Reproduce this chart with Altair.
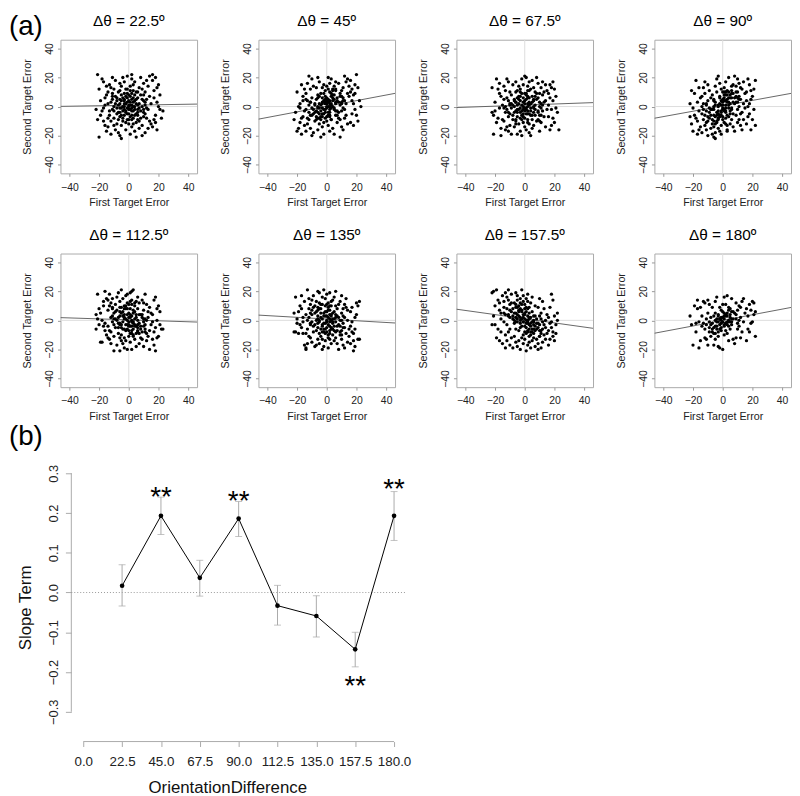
import altair as alt
import pandas as pd

FONT = "Liberation Sans"

# ---------------- panel (a) data: (first target error, second target error) ----------------
PTS_22_5 = [(-21,22),(-20,-21),(-21,-9),(-19,4),(-20,12),(-18,-3),(-17,17),(-16,-13),(-19,-6),(-15,8),(-16,1),(-18,19),(-15,-17),(-17,-10),(-16,6),(-22,-2),(-15,14),(-17,-1),
(-14,10),(-13,-6),(-12,3),(-14,-14),(-11,20),(-10,-8),(-13,15),(-12,-19),(-9,7),(-11,-2),(-10,12),(-14,2),(-8,-12),(-12,-10),(-9,18),(-13,-3),(-10,0),(-11,9),(-8,4),(-9,-16),(-12,13),(-14,-8),(-10,-13),(-11,5),(-8,-5),
(-7,1),(-6,-7),(-5,14),(-4,-3),(-7,-18),(-3,9),(-2,-11),(-6,5),(-5,-1),(-1,3),(-4,20),(-3,-6),(-7,10),(-2,2),(-5,-13),(-1,-9),(-6,-4),(-3,17),(-4,6),(-2,-16),(-1,12),(-5,8),(-6,-20),(-3,0),(-2,-3),(-7,-9),(-1,-1),(-4,-10),(-3,4),(0,-5),(-2,7),(-5,-22),(-6,16),(-1,21),(0,8),
(1,-2),(2,5),(3,-8),(1,14),(4,0),(2,-14),(5,10),(3,3),(6,-4),(1,-19),(4,17),(7,-1),(2,-6),(5,-11),(3,11),(6,6),(1,1),(4,-17),(7,13),(2,19),(5,2),(0,-12),(3,-3),(6,-9),(8,8),(1,7),(4,-6),(7,-15),(2,22),(5,-21),(3,15),(8,-3),(6,1),(0,4),(2,-1),
(9,12),(10,-7),(11,3),(9,-13),(12,18),(13,-2),(10,8),(14,-10),(11,-18),(12,5),(9,0),(13,14),(10,-4),(14,21),(11,10),(12,-8),(15,2),(13,-15),(9,-20),(14,7),(10,16),(12,-1),(15,-12),(11,-5),(8,20),
(16,22),(18,-6),(17,11),(19,3),(16,-14),(20,15),(18,-11),(21,-2),(17,6),(19,-16),(22,-8),(16,18),(20,0),(18,20),(21,8),(17,-9),(23,-3),(19,13)]
CORE_22_5 = [(-10,-3),(-8,6),(-6,-1),(-5,4),(-4,-8),(-3,2),(-2,-4),(-1,6),(0,-2),(1,3),(2,-9),(3,6),(4,-2),(5,5),(6,-6),(7,2),(8,-8),(9,5),(10,-2),(11,1),
(-9,2),(-7,-4),(-6,11),(-4,0),(-3,-2),(-1,-5),(0,1),(1,-7),(2,9),(3,0),(4,4),(5,-5),(6,10),(7,-10),(-2,12),(0,-9),(1,11),(-5,-6),(3,-12),(-8,-1),
(-11,7),(10,4),(-3,5),(2,-3),(4,8),(-6,2),(6,-2),(0,0),(-1,9),(2,1)]

PTS_45 = [(-21,-4),(-20,10),(-19,-15),(-18,2),(-17,-19),(-16,7),(-22,-9),(-15,-3),(-18,-11),(-17,15),(-16,-7),(-19,0),(-15,-13),(-20,-17),(-16,4),(-18,-1),(-15,12),(-17,-8),
(-14,-2),(-13,16),(-12,-9),(-11,3),(-10,-20),(-14,9),(-9,-5),(-12,21),(-13,-12),(-11,-15),(-10,6),(-8,-10),(-12,1),(-9,14),(-14,-17),(-11,-6),(-13,4),(-10,-1),(-9,-18),(-8,2),(-12,-4),(-11,12),(-13,-8),(-10,19),(-14,5),
(-7,-3),(-6,8),(-5,-12),(-4,1),(-7,13),(-3,-7),(-2,4),(-6,-16),(-5,-5),(-1,11),(-4,-21),(-3,6),(-7,-9),(-2,-2),(-5,17),(-1,-8),(-6,0),(-3,-14),(-4,9),(-2,15),(-1,2),(-5,-1),(-6,20),(-3,3),(-2,-11),(-7,5),(-1,-4),(-4,-7),(-3,13),(0,-1),(-2,-19),(-5,7),(-6,-8),(-1,5),(0,-10),
(1,3),(2,-4),(3,9),(1,-13),(4,4),(2,16),(5,-2),(3,-9),(6,11),(1,0),(4,-15),(7,6),(2,-7),(5,14),(3,1),(6,-6),(1,20),(4,8),(7,-11),(2,2),(5,-19),(0,6),(3,-1),(6,17),(8,3),(1,-6),(4,12),(7,-3),(2,-17),(5,5),(3,19),(8,-8),(6,2),(0,14),(2,-2),
(9,7),(10,-3),(11,13),(9,-9),(12,4),(13,17),(10,-14),(14,9),(11,-1),(12,21),(9,1),(13,-6),(10,11),(14,-12),(11,6),(12,-8),(15,14),(13,2),(9,-21),(14,19),(10,3),(12,-2),(15,7),(11,-16),(8,16),
(16,10),(18,2),(17,-5),(19,15),(16,-11),(20,22),(18,8),(21,-10),(17,12),(19,-2),(22,4),(16,18),(20,-6),(18,-13),(21,13),(17,4),(23,0),(19,9)]
CORE_45 = [(-10,-6),(-8,1),(-6,-4),(-5,2),(-4,-9),(-3,-1),(-2,-5),(-1,3),(0,0),(1,5),(2,-6),(3,7),(4,0),(5,8),(6,-3),(7,4),(8,-4),(9,9),(10,2),(11,4),
(-9,-2),(-7,-7),(-6,6),(-4,-3),(-3,-5),(-1,-2),(0,4),(1,-4),(2,10),(3,2),(4,6),(5,-1),(6,12),(7,-6),(-2,9),(0,-7),(1,12),(-5,-8),(3,-9),(-8,-4),
(-11,3),(10,7),(-3,2),(2,0),(4,11),(-6,-1),(6,3),(0,2),(-1,7),(2,4)]

PTS_67_5 = [(-21,-19),(-20,3),(-19,19),(-22,13),(-18,-8),(-17,9),(-16,-15),(-21,-6),(-15,1),(-19,-11),(-17,16),(-20,-3),(-16,7),(-18,12),(-15,-9),(-22,-4),(-17,-1),(-16,-20),
(-14,14),(-13,-4),(-12,6),(-11,-17),(-10,10),(-14,-10),(-9,2),(-12,19),(-13,0),(-11,-7),(-10,-13),(-8,15),(-12,-2),(-9,-19),(-14,5),(-11,4),(-13,11),(-10,-5),(-9,8),(-8,-9),(-12,-14),(-11,17),(-13,-16),(-10,1),(-14,-1),
(-7,4),(-6,-9),(-5,11),(-4,-2),(-7,-14),(-3,7),(-2,-6),(-6,17),(-5,1),(-1,-11),(-4,14),(-3,-17),(-7,-4),(-2,9),(-5,-7),(-1,0),(-6,3),(-3,-1),(-4,-12),(-2,19),(-1,6),(-5,-19),(-6,10),(-3,12),(-2,-3),(-7,0),(-1,15),(-4,5),(-3,-8),(0,2),(-2,-20),(-5,-4),(-6,-12),(-1,-5),(0,21),
(1,5),(2,-9),(3,3),(1,-16),(4,12),(2,0),(5,-6),(3,17),(6,-13),(1,9),(4,-3),(7,1),(2,14),(5,7),(3,-12),(6,4),(1,-2),(4,-20),(7,10),(2,-5),(5,18),(0,-8),(3,6),(6,-1),(8,-10),(1,20),(4,2),(7,-6),(2,7),(5,-15),(3,-18),(8,5),(6,13),(0,-14),(2,11),
(9,-4),(10,9),(11,-11),(9,16),(12,1),(13,-7),(10,-17),(14,4),(11,13),(12,-3),(9,6),(13,10),(10,0),(14,-14),(11,-6),(12,17),(15,-2),(13,3),(9,-9),(14,15),(10,-10),(12,8),(15,11),(11,2),(8,20),
(16,-7),(18,13),(17,-16),(19,4),(16,9),(20,-11),(18,-2),(21,7),(17,15),(19,-8),(22,-4),(16,1),(20,12),(18,-13),(21,-1),(17,6),(23,-16),(19,17)]
CORE_67_5 = [(-10,2),(-8,-6),(-6,3),(-5,-2),(-4,7),(-3,-4),(-2,1),(-1,-7),(0,4),(1,-1),(2,6),(3,-5),(4,2),(5,-9),(6,5),(7,-2),(8,9),(9,-3),(10,3),(11,-1),
(-9,-1),(-7,5),(-6,-10),(-4,2),(-3,10),(-1,3),(0,-3),(1,8),(2,-11),(3,1),(4,-6),(5,3),(6,-4),(7,7),(-2,-9),(0,9),(1,-5),(-5,6),(3,11),(-8,1),
(-11,-4),(10,-6),(-3,4),(2,2),(4,-1),(-6,-3),(6,0),(0,-1),(-1,-2),(2,-3)]

PTS_90 = [(-21,11),(-20,-17),(-19,-6),(-22,2),(-18,18),(-17,-10),(-16,-3),(-21,-12),(-15,6),(-19,9),(-17,-19),(-20,-1),(-16,13),(-18,-8),(-15,-14),(-22,-7),(-17,3),(-16,-16),
(-14,-5),(-13,13),(-12,-13),(-11,1),(-10,-20),(-14,7),(-9,-8),(-12,17),(-13,-2),(-11,-11),(-10,4),(-8,-15),(-12,-6),(-9,11),(-14,-18),(-11,-3),(-13,2),(-10,-10),(-9,-1),(-8,6),(-12,9),(-11,-16),(-13,-9),(-10,15),(-14,0),
(-7,-12),(-6,5),(-5,-18),(-4,-4),(-7,8),(-3,-9),(-2,2),(-6,-21),(-5,-7),(-1,12),(-4,19),(-3,-15),(-7,-2),(-2,-6),(-5,3),(-1,-13),(-6,-10),(-3,1),(-4,10),(-2,-17),(-1,-3),(-5,14),(-6,-14),(-3,21),(-2,7),(-7,-19),(-1,4),(-4,-11),(-3,-5),(0,-7),(-2,16),(-5,-22),(-6,0),(-1,-19),(0,10),
(1,4),(2,-8),(3,11),(1,-3),(4,6),(2,17),(5,-5),(3,-13),(6,9),(1,13),(4,-1),(7,15),(2,1),(5,8),(3,-17),(6,-2),(1,-11),(4,20),(7,3),(2,-4),(5,-12),(0,3),(3,5),(6,-9),(8,21),(1,8),(4,-7),(7,-14),(2,10),(5,2),(3,-16),(8,6),(6,14),(0,-2),(2,-12),
(9,10),(10,-2),(11,16),(9,-6),(12,5),(13,12),(10,-11),(14,2),(11,7),(12,-13),(9,3),(13,-4),(10,19),(14,-9),(11,0),(12,13),(15,9),(13,-16),(9,14),(14,17),(10,6),(12,-5),(15,-1),(11,-9),(8,-17),
(16,4),(18,-5),(17,19),(19,11),(16,-12),(20,7),(18,15),(21,-2),(17,0),(19,-16),(22,18),(16,10),(20,-9),(18,2),(21,12),(17,-7),(22,-13),(19,5)]
CORE_90 = [(-10,-7),(-8,-2),(-6,-6),(-5,1),(-4,-10),(-3,-3),(-2,-7),(-1,1),(0,-1),(1,6),(2,-3),(3,8),(4,1),(5,6),(6,-1),(7,9),(8,2),(9,7),(10,3),(11,5),
(-9,-4),(-7,-9),(-6,4),(-4,-6),(-3,-8),(-1,-4),(0,5),(1,-2),(2,8),(3,3),(4,10),(5,-3),(6,6),(7,-5),(-2,6),(0,-9),(1,10),(-5,-12),(3,-6),(-8,-6),
(-11,2),(10,10),(-3,0),(2,4),(4,3),(-6,-2),(6,11),(0,1),(-1,-6),(2,-1)]

PTS_112_5 = [(-21,18),(-20,-3),(-19,5),(-22,4),(-18,-15),(-17,10),(-16,-7),(-21,1),(-15,15),(-19,-15),(-17,-4),(-20,8),(-16,20),(-18,0),(-15,-10),(-22,-6),(-17,13),(-16,-2),
(-14,7),(-13,-13),(-12,2),(-11,15),(-10,-21),(-14,-4),(-9,11),(-12,-8),(-13,18),(-11,-1),(-10,5),(-8,-17),(-12,12),(-9,-5),(-14,-12),(-11,8),(-13,-7),(-10,-11),(-9,1),(-8,16),(-12,-16),(-11,3),(-13,10),(-10,-3),(-14,14),
(-7,-9),(-6,13),(-5,-3),(-4,6),(-7,19),(-3,-12),(-2,1),(-6,-21),(-5,9),(-1,-6),(-4,-16),(-3,4),(-7,2),(-2,17),(-5,-10),(-1,12),(-6,-2),(-3,-19),(-4,15),(-2,-7),(-1,0),(-5,21),(-6,6),(-3,10),(-2,-14),(-7,-5),(-1,-20),(-4,-1),(-3,2),(0,-11),(-2,8),(-5,-14),(-6,-12),(-1,18),(0,5),
(1,-4),(2,14),(3,-1),(1,8),(4,-13),(2,-9),(5,4),(3,21),(6,-7),(1,-15),(4,10),(7,-2),(2,3),(5,-18),(3,-6),(6,16),(1,2),(4,-4),(7,12),(2,-20),(5,-9),(0,-3),(3,7),(6,0),(8,-12),(1,19),(4,1),(7,-16),(2,-1),(5,13),(3,-11),(8,4),(6,-5),(0,11),(2,20),
(9,-8),(10,12),(11,-3),(9,4),(12,-14),(13,6),(10,-1),(14,-7),(11,18),(12,0),(9,14),(13,-11),(10,-18),(14,9),(11,-6),(12,11),(15,-3),(13,2),(9,-13),(14,-20),(10,7),(12,-9),(15,5),(11,1),(8,-4),
(16,-13),(18,16),(17,-8),(19,0),(16,4),(20,-11),(18,-21),(21,-3),(17,14),(19,8),(22,-6),(16,-1),(20,10),(18,-5),(21,6),(17,-17),(23,-6),(19,-12)]
CORE_112_5 = [(-10,1),(-8,7),(-6,-3),(-5,5),(-4,-6),(-3,1),(-2,-3),(-1,8),(0,-4),(1,4),(2,-7),(3,5),(4,-3),(5,2),(6,-8),(7,4),(8,-6),(9,2),(10,-4),(11,-8),
(-9,6),(-7,-2),(-6,9),(-4,3),(-3,-6),(-1,-3),(0,2),(1,-9),(2,11),(3,-2),(4,6),(5,-4),(6,8),(7,-9),(-2,10),(0,-7),(1,13),(-5,-5),(3,-10),(-8,0),
(-11,9),(10,1),(-3,8),(2,0),(4,12),(-6,3),(6,-3),(0,-1),(-1,4),(2,-4)]

PTS_135 = [(-21,16),(-20,-2),(-19,-9),(-22,5),(-18,10),(-17,-5),(-16,2),(-21,-8),(-15,13),(-19,6),(-17,17),(-20,1),(-16,-9),(-18,-3),(-15,-17),(-22,-8),(-17,8),(-16,-1),
(-14,-19),(-13,-16),(-12,8),(-11,-2),(-10,14),(-14,4),(-9,-8),(-12,-11),(-13,21),(-11,5),(-10,-15),(-8,10),(-12,2),(-9,17),(-14,-20),(-11,-12),(-13,0),(-10,7),(-9,-4),(-8,-18),(-12,15),(-11,11),(-13,-6),(-10,-1),(-14,-9),
(-7,6),(-6,-13),(-5,19),(-4,-6),(-7,-17),(-3,11),(-2,-2),(-6,9),(-5,-9),(-1,15),(-4,2),(-3,-20),(-7,13),(-2,5),(-5,0),(-1,-14),(-6,-5),(-3,16),(-4,-11),(-2,21),(-1,3),(-5,-16),(-6,20),(-3,-3),(-2,-8),(-7,0),(-1,10),(-4,8),(-3,-13),(0,-1),(-2,-18),(-5,12),(-6,1),(-1,-6),(0,18),
(1,2),(2,-7),(3,13),(1,-12),(4,5),(2,19),(5,-4),(3,-16),(6,10),(1,7),(4,-10),(7,3),(2,-1),(5,16),(3,0),(6,-12),(1,-19),(4,14),(7,-7),(2,10),(5,-14),(0,-8),(3,4),(6,20),(8,-3),(1,12),(4,-2),(7,-16),(2,-13),(5,6),(3,-6),(8,11),(6,-1),(0,3),(2,4),
(9,-10),(10,5),(11,-17),(9,13),(12,-5),(13,9),(10,-13),(14,0),(11,3),(12,-19),(9,0),(13,-9),(10,17),(14,-15),(11,8),(12,2),(15,-6),(13,15),(9,-4),(14,7),(10,-7),(12,11),(15,-11),(11,-2),(8,-20),
(16,-4),(18,-21),(17,9),(19,2),(16,-16),(20,12),(18,-9),(21,-13),(17,-1),(19,-18),(22,-13),(16,6),(20,4),(18,-14),(21,10),(17,-8),(22,13),(19,-6)]
CORE_135 = [(-10,4),(-8,-3),(-6,7),(-5,-1),(-4,5),(-3,-4),(-2,3),(-1,-2),(0,6),(1,-3),(2,7),(3,-5),(4,1),(5,-7),(6,4),(7,-4),(8,2),(9,-8),(10,0),(11,-5),
(-9,9),(-7,-7),(-6,3),(-4,11),(-3,1),(-1,6),(0,-5),(1,9),(2,-9),(3,3),(4,-6),(5,1),(6,-8),(7,8),(-2,-6),(0,11),(1,-10),(-5,8),(3,10),(-8,5),
(-11,-3),(10,-10),(-3,-8),(2,1),(4,-1),(-6,-2),(6,2),(0,0),(-1,-9),(2,-4)]

PTS_157_5 = [(-21,20),(-20,-3),(-19,-12),(-22,19),(-18,14),(-17,7),(-16,-8),(-21,3),(-15,17),(-19,21),(-17,-14),(-20,10),(-16,1),(-18,-6),(-15,-16),(-22,-3),(-17,12),(-16,5),
(-14,9),(-13,-10),(-12,16),(-11,3),(-10,-17),(-14,13),(-9,6),(-12,-3),(-13,19),(-11,-8),(-10,11),(-8,-19),(-12,8),(-9,-12),(-14,-1),(-11,14),(-13,4),(-10,-6),(-9,18),(-8,1),(-12,-14),(-11,21),(-13,-19),(-10,2),(-14,5),
(-7,12),(-6,-6),(-5,17),(-4,3),(-7,-11),(-3,8),(-2,-4),(-6,19),(-5,-1),(-1,13),(-4,-14),(-3,0),(-7,5),(-2,21),(-5,9),(-1,-10),(-6,2),(-3,15),(-4,-7),(-2,7),(-1,-1),(-5,-18),(-6,11),(-3,-20),(-2,-12),(-7,-2),(-1,17),(-4,6),(-3,-5),(0,4),(-2,1),(-5,14),(-6,-15),(-1,-16),(0,11),
(1,-5),(2,8),(3,-11),(1,15),(4,-2),(2,-17),(5,6),(3,2),(6,-9),(1,-21),(4,12),(7,-4),(2,-1),(5,-14),(3,9),(6,3),(1,0),(4,-19),(7,10),(2,18),(5,-6),(0,-8),(3,-3),(6,-12),(8,1),(1,6),(4,-8),(7,-18),(2,13),(5,16),(3,-15),(8,-6),(6,-1),(0,-13),(2,-8),
(9,-2),(10,-11),(11,5),(9,-16),(12,-6),(13,8),(10,3),(14,-13),(11,-19),(12,13),(9,9),(13,-3),(10,-7),(14,0),(11,-9),(12,-15),(15,4),(13,-10),(9,-20),(14,-5),(10,15),(12,-1),(15,-9),(11,1),(8,-13),
(16,-7),(18,-1),(17,9),(19,-11),(16,-17),(20,3),(18,-5),(21,-9),(17,-13),(19,14),(22,5),(16,2),(20,-14),(18,18),(21,-3),(17,-2),(22,0),(19,-8)]
CORE_157_5 = [(-10,7),(-8,3),(-6,9),(-5,1),(-4,10),(-3,2),(-2,6),(-1,-1),(0,5),(1,-2),(2,3),(3,-6),(4,2),(5,-8),(6,0),(7,-7),(8,-2),(9,-5),(10,-3),(11,-7),
(-9,12),(-7,0),(-6,5),(-4,7),(-3,-2),(-1,4),(0,-4),(1,9),(2,-7),(3,1),(4,-4),(5,-1),(6,-6),(7,3),(-2,11),(0,8),(1,-9),(-5,4),(3,5),(-8,8),
(-11,4),(10,-11),(-3,12),(2,-2),(4,-10),(-6,-1),(6,-3),(0,1),(-1,2),(2,0)]

PTS_180 = [(-22,3),(-21,-3),(-20,-17),(-19,10),(-18,-8),(-17,14),(-16,-19),(-15,-14),(-16,-1),(-18,-2),(-17,8),(-15,9),
(-14,-4),(-13,13),(-12,-12),(-11,1),(-10,-17),(-14,3),(-9,-8),(-12,12),(-13,-2),(-11,-13),(-10,5),(-8,-11),(-12,-6),(-9,11),(-11,-3),(-10,14),(-9,-1),(-8,2),
(-7,-6),(-6,3),(-5,-13),(-4,1),(-7,9),(-3,-8),(-2,-3),(-6,-17),(-5,-4),(-1,7),(-4,16),(-3,-11),(-7,-2),(-2,1),(-5,5),(-1,-7),(-6,-9),(-3,3),(-4,-1),(-2,-19),(-1,-2),(-5,13),(-3,-18),(-2,9),(-1,0),(-4,-6),(0,-20),(0,2),
(1,-3),(2,4),(3,-1),(1,16),(4,0),(2,-7),(5,8),(3,3),(6,-3),(1,-10),(4,-14),(7,6),(2,11),(5,-1),(3,-9),(6,15),(1,5),(4,-4),(7,-13),(2,-2),(5,2),(0,11),(3,17),(6,1),(8,-16),(1,1),(4,7),
(9,4),(10,-6),(11,10),(9,-12),(12,2),(13,13),(10,7),(14,-1),(11,-4),(12,9),(13,-8),(14,15),(15,5),(11,0),(12,-12),(9,12),(10,-2),
(16,-14),(17,3),(18,11),(19,-2),(16,8),(20,13),(18,-8),(21,4),(17,-6),(19,7),(22,-11),(21,12),(20,-1),(22,6)]
CORE_180 = [(-8,-3),(-6,-5),(-5,0),(-4,-4),(-3,-1),(-2,-6),(-1,2),(0,-1),(1,3),(2,-2),(3,5),(4,-1),(5,4),(6,6),(7,1),(8,5),(-7,-8),(-3,4),(0,6),(1,-4),
(2,3),(3,-3),(4,9),(-1,-5),(-2,1),(5,-6),(6,-1),(-5,-9),(9,1),(-9,-5)]

PANEL_POINTS = [PTS_22_5 + CORE_22_5, PTS_45 + CORE_45, PTS_67_5 + CORE_67_5, PTS_90 + CORE_90,
                PTS_112_5 + CORE_112_5, PTS_135 + CORE_135, PTS_157_5 + CORE_157_5, PTS_180 + CORE_180]
PANEL_TITLES = ["Δθ = 22.5º", "Δθ = 45º", "Δθ = 67.5º", "Δθ = 90º",
                "Δθ = 112.5º", "Δθ = 135º", "Δθ = 157.5º", "Δθ = 180º"]
AXIS_TICKS_A = [-40, -20, 0, 20, 40]
INTERCEPTS = [0.9, 0.2, 1.0, 0.5, 0.35, 0.9, 1.1, 0.0]

# ---------------- panel (b) data ----------------
ORIENT = [22.5, 45, 67.5, 90, 112.5, 135, 157.5, 180]
SLOPE = [0.017, 0.193, 0.037, 0.186, -0.033, -0.059, -0.143, 0.193]
LO = [-0.034, 0.146, -0.009, 0.141, -0.082, -0.112, -0.187, 0.131]
HI = [0.070, 0.240, 0.081, 0.229, 0.018, -0.008, -0.100, 0.254]
STAR_X = [45, 90, 157.5, 180]
STAR_Y = [0.257, 0.247, -0.218, 0.278]
X_TICKS_B = [0, 22.5, 45, 67.5, 90, 112.5, 135, 157.5, 180]
Y_TICKS_B = [-0.3, -0.2, -0.1, 0.0, 0.1, 0.2, 0.3]

XDOM = [-46, 46]
YDOM = [-46, 46]
PW, PH = 138, 135


def scatter_panel(i):
    pts = pd.DataFrame(PANEL_POINTS[i], columns=["x", "y"])
    xs = alt.Scale(domain=XDOM, nice=False, zero=False)
    ys = alt.Scale(domain=YDOM, nice=False, zero=False)
    xaxis = alt.Axis(values=AXIS_TICKS_A, title="First Target Error", grid=False, domain=False,
                     tickSize=3, tickColor="#999", labelPadding=6, labelFontSize=10.5,
                     labelFlush=False, titleFontSize=10.8, titleFontWeight="normal", titlePadding=4,
                     labelColor="#222", titleColor="#222", labelFont=FONT, titleFont=FONT)
    yaxis = alt.Axis(values=AXIS_TICKS_A, title="Second Target Error", grid=False, domain=False,
                     tickSize=3, tickColor="#999", labelPadding=3, labelFontSize=10.5,
                     labelFlush=False, labelAngle=-90, labelAlign="center", labelBaseline="bottom",
                     titleFontSize=10.8, titleFontWeight="normal", titlePadding=12,
                     labelColor="#222", titleColor="#222", labelFont=FONT, titleFont=FONT)
    zero = pd.DataFrame({"v": [0]})
    vline = alt.Chart(zero).mark_rule(color="#dddddd", strokeWidth=1).encode(
        x=alt.X("v:Q", scale=xs, axis=xaxis))
    hline = alt.Chart(zero).mark_rule(color="#dddddd", strokeWidth=1).encode(
        y=alt.Y("v:Q", scale=ys, axis=yaxis))
    b = SLOPE[i]
    a = INTERCEPTS[i]
    reg = pd.DataFrame({"x": XDOM, "y": [a + b * XDOM[0], a + b * XDOM[1]]})
    regline = alt.Chart(reg).mark_line(color="#555555", strokeWidth=0.9, clip=True).encode(
        x=alt.X("x:Q", scale=xs, axis=xaxis), y=alt.Y("y:Q", scale=ys, axis=yaxis))
    dots = alt.Chart(pts).mark_circle(size=11, color="black", opacity=1).encode(
        x=alt.X("x:Q", scale=xs, axis=xaxis), y=alt.Y("y:Q", scale=ys, axis=yaxis))
    ttl = alt.Chart(pd.DataFrame({"t": [PANEL_TITLES[i]]})).mark_text(
        font=FONT, fontSize=15.5, align="center", baseline="middle", color="black").encode(
        text="t:N", x=alt.value(PW / 2), y=alt.value(-19))
    layers = [vline, hline, regline, dots, ttl]
    if i == 0:
        lab = alt.Chart(pd.DataFrame({"t": ["(a)"]})).mark_text(
            font=FONT, fontSize=28, align="left", baseline="top", color="black").encode(
            text="t:N", x=alt.value(-52), y=alt.value(-27))
        layers.append(lab)
    return alt.layer(*layers).properties(
        width=PW, height=PH, view=alt.ViewBackground(stroke="#aaaaaa", strokeWidth=1))


panels = [scatter_panel(i) for i in range(8)]
grid = alt.concat(*panels, columns=4, spacing={"row": 81, "column": 62}, bounds="flush")

# ---------------- panel (b) ----------------
dfb = pd.DataFrame({"o": ORIENT, "s": SLOPE, "lo": LO, "hi": HI})
bxs = alt.Scale(domain=[-13.19, 180], nice=False, zero=False)
bys = alt.Scale(domain=[-0.375, 0.3], nice=False, zero=False)
bxaxis = alt.Axis(values=X_TICKS_B, format=".1f", title="OrientationDifference", grid=False,
                  domain=False, tickSize=5, tickColor="#aaa", labelPadding=8, labelFontSize=13.5,
                  labelColor="#222", titleFontSize=17, titleFontWeight="normal", titleColor="#111",
                  titlePadding=12, labelFont=FONT, titleFont=FONT, labelOverlap=False,
                  labelFlush=False)
byaxis = alt.Axis(values=Y_TICKS_B, format=".1f", title="Slope Term", grid=False, domain=False,
                  offset=-11, tickSize=6, tickColor="#aaa", labelPadding=5, labelFontSize=13,
                  labelAngle=-90, labelAlign="center", labelBaseline="bottom", labelFlush=False,
                  labelColor="#222", titleFontSize=17, titleFontWeight="normal", titleColor="#111",
                  titlePadding=13, labelFont=FONT, titleFont=FONT)

xline = alt.Chart(pd.DataFrame({"x": [0], "x2": [180], "y": [-0.375]})).mark_rule(
    color="#aaaaaa").encode(x=alt.X("x:Q", scale=bxs, axis=bxaxis), x2="x2:Q",
                            y=alt.Y("y:Q", scale=bys, axis=byaxis))
yline = alt.Chart(pd.DataFrame({"x": [-6.9], "y": [-0.3], "y2": [0.3]})).mark_rule(
    color="#aaaaaa").encode(x=alt.X("x:Q", scale=bxs, axis=bxaxis),
                            y=alt.Y("y:Q", scale=bys, axis=byaxis), y2="y2:Q")
zline = alt.Chart(pd.DataFrame({"x": [-6.9], "x2": [186.4], "y": [0]})).mark_rule(
    color="#999999", strokeDash=[1, 2]).encode(x=alt.X("x:Q", scale=bxs, axis=bxaxis), x2="x2:Q",
                                              y=alt.Y("y:Q", scale=bys, axis=byaxis))
ebar = alt.Chart(dfb).mark_rule(color="#aaaaaa").encode(
    x=alt.X("o:Q", scale=bxs, axis=bxaxis), y=alt.Y("lo:Q", scale=bys, axis=byaxis), y2="hi:Q")
cap_lo = alt.Chart(dfb).mark_tick(color="#aaaaaa", orient="horizontal", size=7, thickness=1).encode(
    x=alt.X("o:Q", scale=bxs, axis=bxaxis), y=alt.Y("lo:Q", scale=bys, axis=byaxis))
cap_hi = alt.Chart(dfb).mark_tick(color="#aaaaaa", orient="horizontal", size=7, thickness=1).encode(
    x=alt.X("o:Q", scale=bxs, axis=bxaxis), y=alt.Y("hi:Q", scale=bys, axis=byaxis))
line = alt.Chart(dfb).mark_line(color="black", strokeWidth=1).encode(
    x=alt.X("o:Q", scale=bxs, axis=bxaxis), y=alt.Y("s:Q", scale=bys, axis=byaxis))
pts = alt.Chart(dfb).mark_circle(color="black", size=22, opacity=1).encode(
    x=alt.X("o:Q", scale=bxs, axis=bxaxis), y=alt.Y("s:Q", scale=bys, axis=byaxis))
stars = alt.Chart(pd.DataFrame({"x": STAR_X, "y": STAR_Y, "t": ["**"] * len(STAR_X)})).mark_text(
    font=FONT, fontSize=28, color="black", baseline="alphabetic", dy=16).encode(
    x=alt.X("x:Q", scale=bxs, axis=bxaxis), y=alt.Y("y:Q", scale=bys, axis=byaxis), text="t:N")
blab = alt.Chart(pd.DataFrame({"t": ["(b)"]})).mark_text(
    font=FONT, fontSize=28, align="left", baseline="alphabetic", color="black").encode(
    text="t:N", x=alt.value(-52), y=alt.value(-29))

panel_b = alt.layer(xline, yline, zline, ebar, cap_lo, cap_hi, line, pts, stars, blab).properties(
    width=337, height=271, view=alt.ViewBackground(stroke="transparent"))

chart = alt.vconcat(grid, panel_b, spacing=0).properties(padding=0, background="white")

chart.save("out.html", embed_options={"renderer": "svg", "actions": False})
